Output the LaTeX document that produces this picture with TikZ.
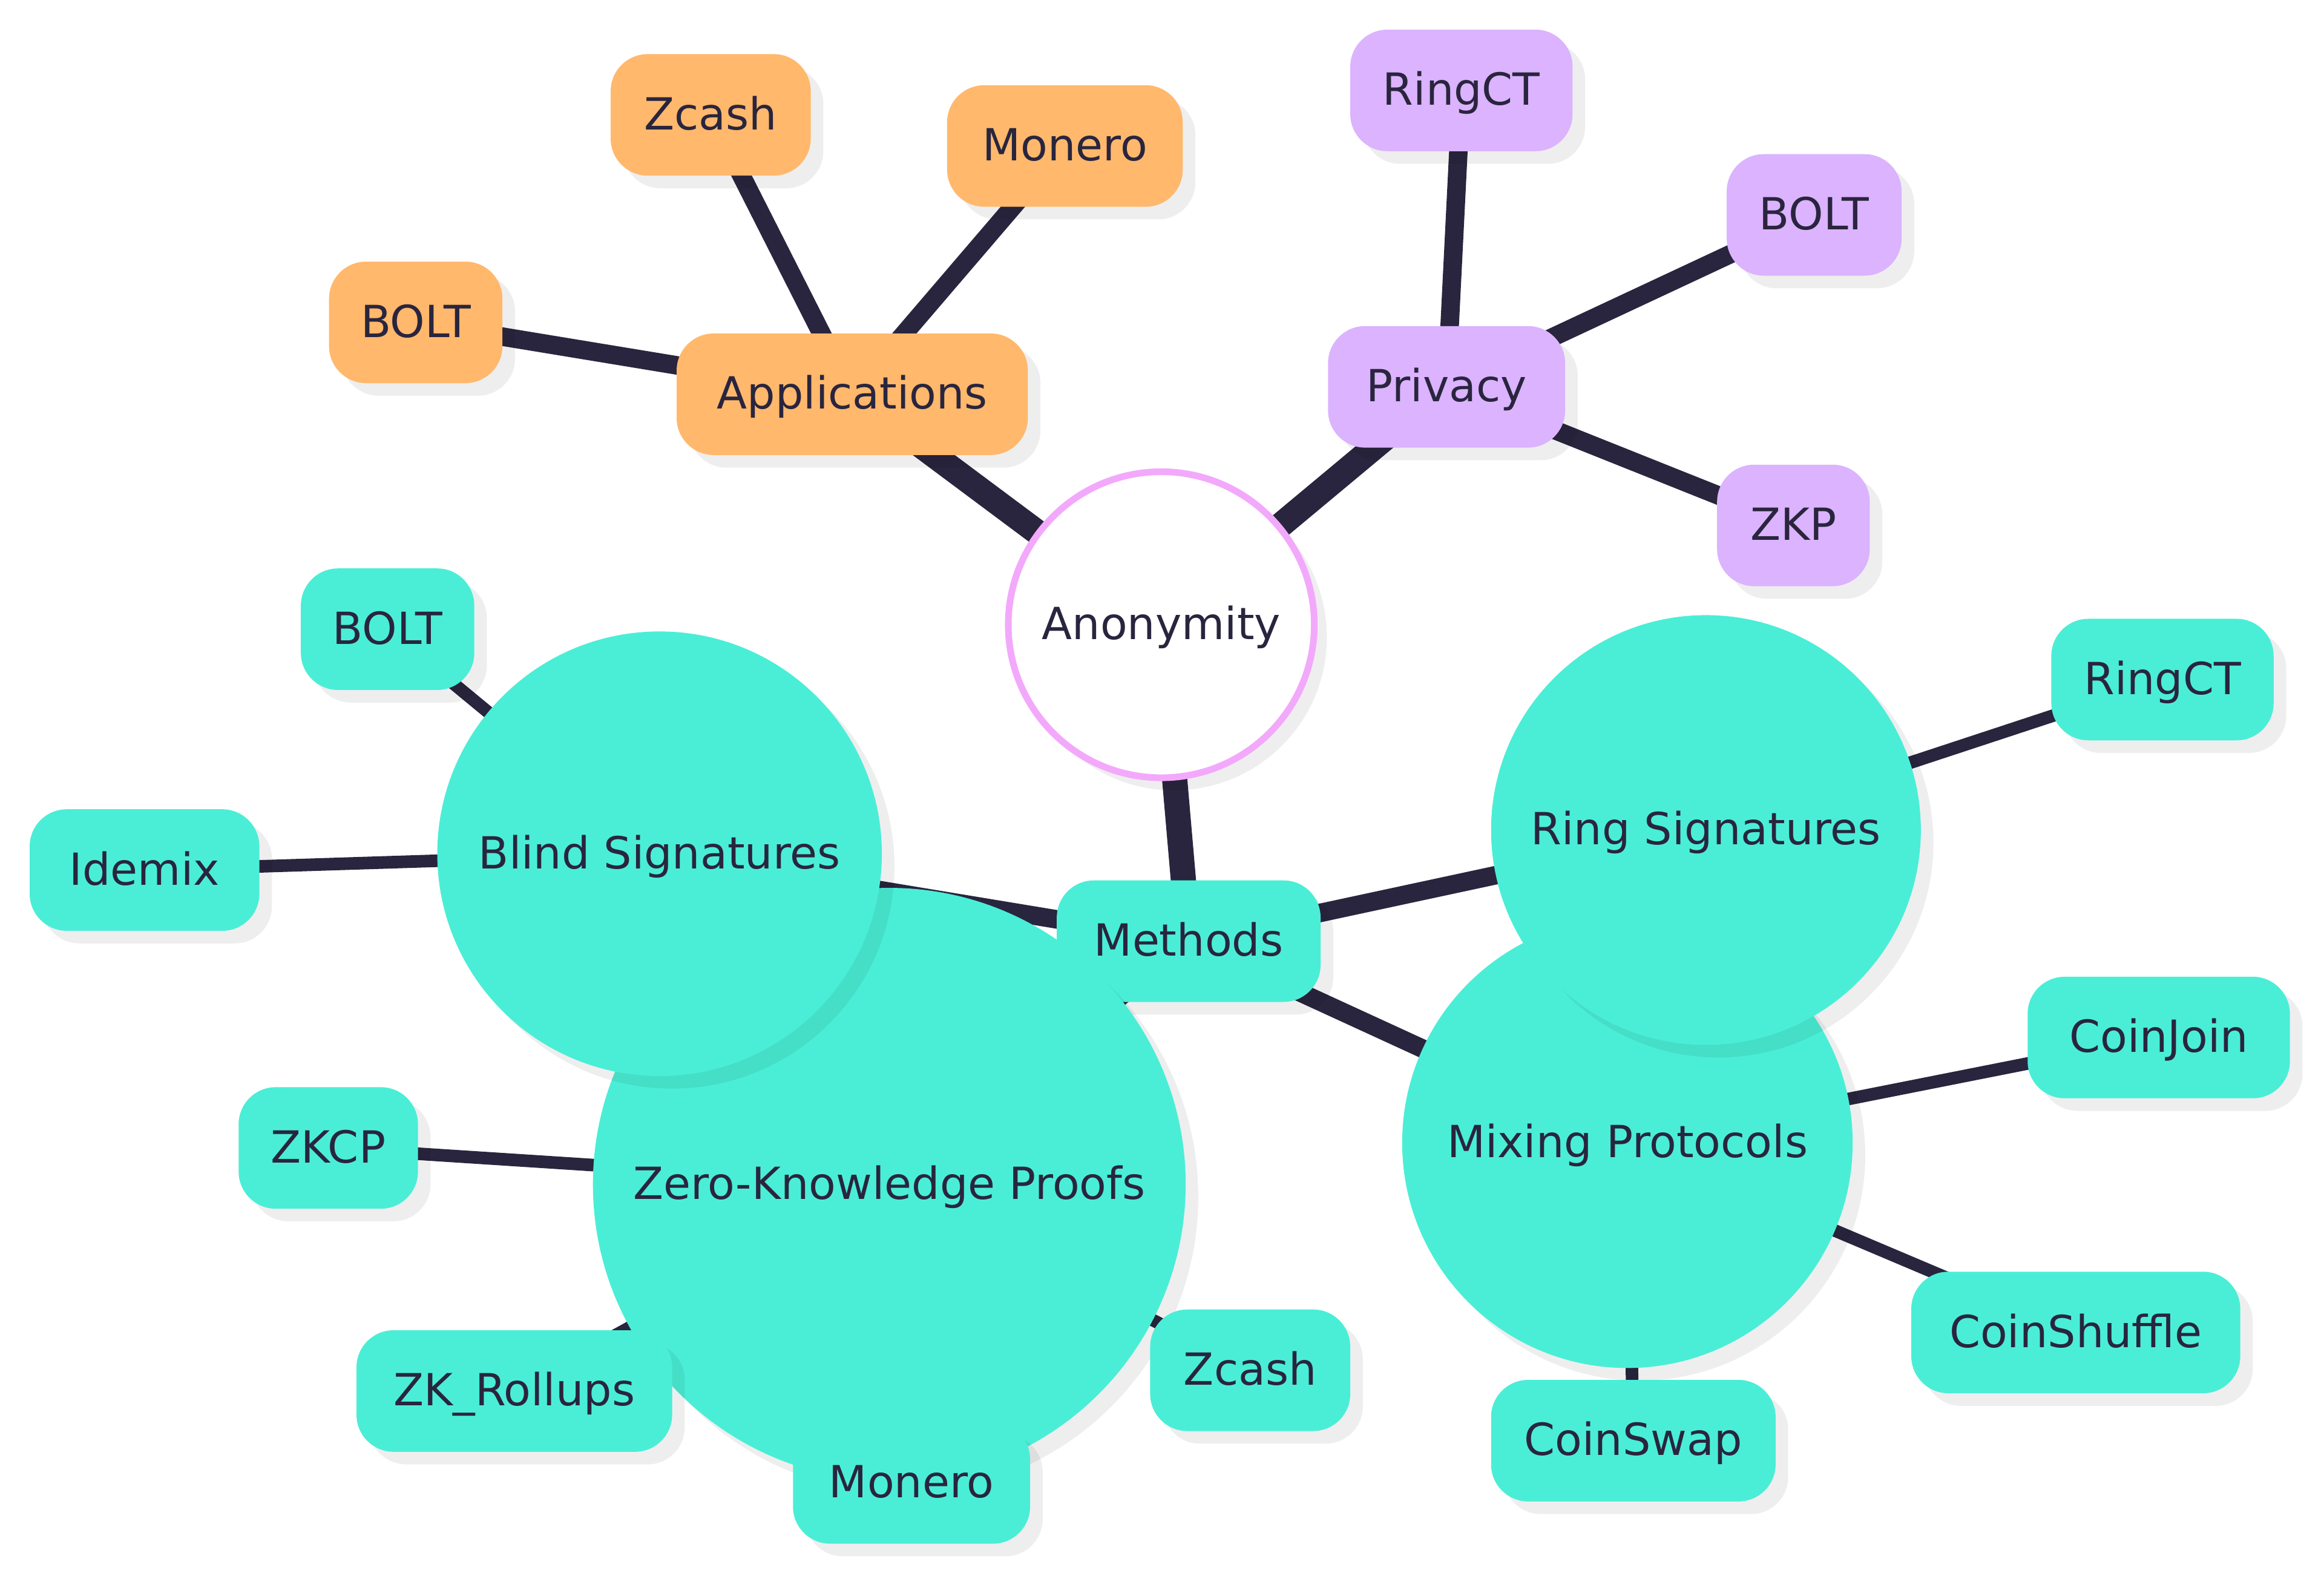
\documentclass[tikz,border=0pt]{standalone}
\usepackage{fontspec}
\setmainfont{DejaVu Sans}
\usepackage{xcolor}
\usepackage{tikz}
\usetikzlibrary{shadows,backgrounds}
\definecolor{inkdark}{HTML}{29253E}
\definecolor{softorange}{HTML}{FFB86C}
\definecolor{softpurple}{HTML}{DBB3FE}
\definecolor{softteal}{HTML}{4AEED6}
\definecolor{ringpink}{HTML}{F3A9FB}

\begin{document}
\begin{tikzpicture}[x=0.02cm,y=-0.02cm,font=\fontsize{17}{20}\selectfont,text=inkdark]
\tikzset{shade/.style={drop shadow={shadow xshift=0.17cm,shadow yshift=-0.17cm,fill=black,opacity=0.065},text height=15.3pt,text depth=3.9pt},
  leaf/.style={shade,rounded corners=0.5cm,inner sep=0pt,minimum height=1.64cm,minimum width=#1},
  topic/.style={shade,circle,inner sep=0pt,fill=softteal,minimum size=#1},
  link/.style={draw=inkdark}}
\useasboundingbox (0,0) rectangle (1568,1065);
\node[shade,circle,draw=ringpink,line width=0.09cm,fill=white,inner sep=0pt,minimum size=4.13cm] (anon) at (783.5,421.5) {Anonymity};
% applications
\node[leaf=4.74cm,fill=softorange] (app) at (575,266) {Applications};
\node[leaf=2.70cm,fill=softorange] (zcashA) at (479.5,77.5) {Zcash};
\node[leaf=3.18cm,fill=softorange] (moneroA) at (718.5,98.5) {Monero};
\node[leaf=2.34cm,fill=softorange] (boltA) at (280.5,217.5) {BOLT};
% privacy
\node[leaf=3.20cm,fill=softpurple] (priv) at (976,261) {Privacy};
\node[leaf=3.00cm,fill=softpurple] (ringctP) at (986,61) {RingCT};
\node[leaf=2.36cm,fill=softpurple] (boltP) at (1224,145) {BOLT};
\node[leaf=2.06cm,fill=softpurple] (zkpP) at (1210,354.5) {ZKP};
% methods
\node[leaf=3.56cm,fill=softteal] (meth) at (802,635) {Methods};
\node[topic=8.0cm] (zkproof) at (600,799) {Zero-Knowledge Proofs};
\node[leaf=2.42cm,fill=softteal] (zkcp) at (221.5,774.5) {ZKCP};
\node[leaf=4.26cm,fill=softteal] (zkroll) at (347,938.5) {ZK\_Rollups};
\node[leaf=3.20cm,fill=softteal] (moneroT) at (615,1000.5) {Monero};
\node[leaf=2.70cm,fill=softteal] (zcashT) at (843.5,924.5) {Zcash};
\node[topic=6.0cm] (blind) at (445,576) {Blind Signatures};
\node[leaf=2.34cm,fill=softteal] (boltT) at (261.5,424.5) {BOLT};
\node[leaf=3.10cm,fill=softteal] (idemix) at (97.5,587) {Idemix};
\node[topic=6.08cm] (mixing) at (1098,771) {Mixing Protocols};
\node[leaf=3.54cm,fill=softteal] (coinjoin) at (1456.5,700) {CoinJoin};
\node[leaf=4.44cm,fill=softteal] (coinshuffle) at (1400.5,899) {CoinShuffle};
\node[leaf=3.84cm,fill=softteal] (coinswap) at (1102,972) {CoinSwap};
\node[topic=5.8cm] (ring) at (1151,560) {Ring Signatures};
\node[leaf=3.00cm,fill=softteal] (ringctT) at (1459,458.5) {RingCT};
\begin{scope}[on background layer]
\fill[white] (0,0) rectangle (1568,1065);
\foreach \b in {app,priv,meth}{\draw[link,line width=0.34cm] (anon.center) -- (\b.center);}
\foreach \a/\b in {app/zcashA,app/moneroA,app/boltA,priv/ringctP,priv/boltP,priv/zkpP,meth/blind,meth/zkproof,meth/ring,meth/mixing}{\draw[link,line width=0.25cm] (\a.center) -- (\b.center);}
\foreach \a/\b in {blind/boltT,blind/idemix,zkproof/zkcp,zkproof/zkroll,zkproof/moneroT,zkproof/zcashT,ring/ringctT,mixing/coinjoin,mixing/coinshuffle,mixing/coinswap}{\draw[link,line width=0.17cm] (\a.center) -- (\b.center);}
\end{scope}
\end{tikzpicture}
\end{document}
